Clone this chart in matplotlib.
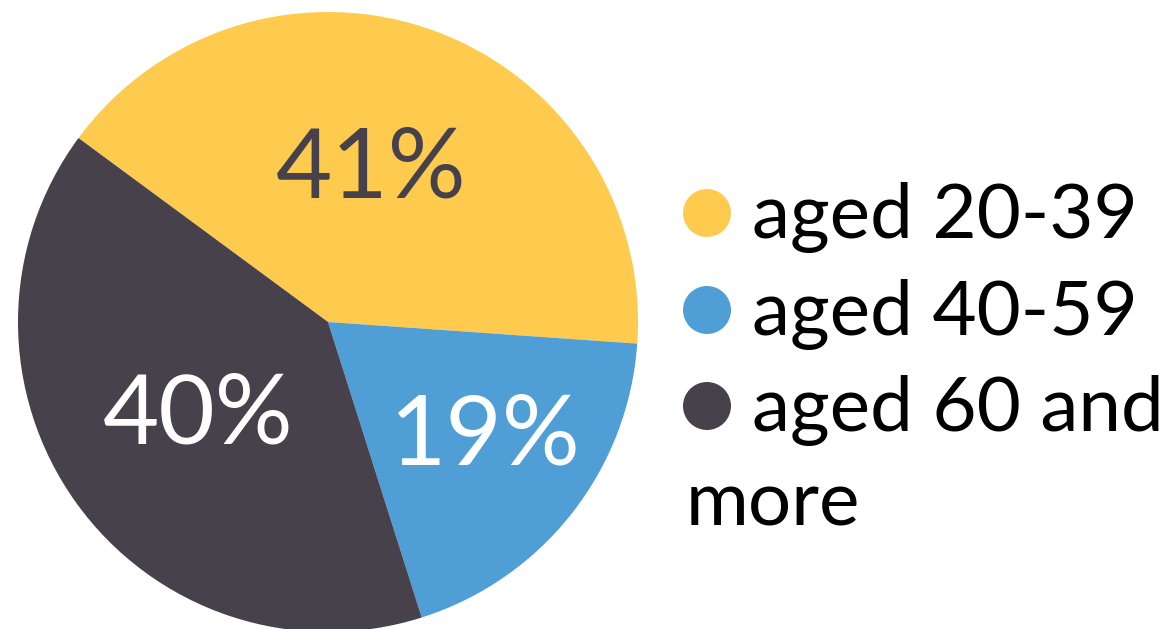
import numpy as np
import matplotlib.pyplot as plt
from matplotlib.patches import Circle

labels = ["aged 20-39", "aged 40-59", "aged 60 and\nmore"]
values = [41, 19, 40]
colors = ["#FECB4F", "#4F9FD6", "#46414B"]
label_colors = ["#46414B", "white", "white"]
label_dist = [0.52, 0.62, 0.51]
label_shift = [4.5, 2.5, -0.5]   # degrees, nudge off the wedge middle

W, H = 1172, 629
plt.rcParams['font.family'] = ['Lato', 'DejaVu Sans']

fig = plt.figure(figsize=(W / 100, H / 100), dpi=100)
ax = fig.add_axes([0, 0, 1, 1])

cx, cy, r = 328, H - 322, 310
wedges, _ = ax.pie(values, colors=colors, startangle=143.6, counterclock=False,
                   center=(cx, cy), radius=r, frame=True,
                   wedgeprops=dict(linewidth=0))
ax.set_xlim(0, W)
ax.set_ylim(0, H)
ax.set_aspect('equal')
ax.axis('off')

for w, v, c, d, s in zip(wedges, values, label_colors, label_dist, label_shift):
    mid = np.deg2rad((w.theta1 + w.theta2) / 2 + s)
    x = cx + d * r * np.cos(mid)
    y = cy + d * r * np.sin(mid) + 5
    ax.text(x, y, f"{v}%", color=c, fontsize=70, ha='center', va='center_baseline')

# legend
rows = [213, 310, 406]
for yy, lab, col in zip(rows, labels, colors):
    ax.add_patch(Circle((707, H - yy), 24, color=col, lw=0))
    first, *rest = lab.split("\n")
    ax.text(752, H - yy - 25, first, fontsize=55, color='black', va='baseline', ha='left')
    if rest:
        ax.text(686, H - yy - 120, rest[0], fontsize=55, color='black', va='baseline', ha='left')

fig.savefig("out.png", dpi=100)
